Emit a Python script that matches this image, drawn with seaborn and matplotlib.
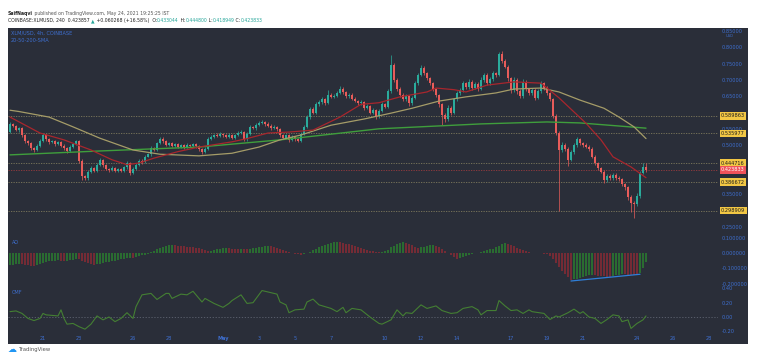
import matplotlib
matplotlib.use("Agg")
import matplotlib.pyplot as plt
import matplotlib.transforms as mtransforms
import numpy as np
import seaborn as sns

# ---------------------------------------------------------------------------
# Data -- 4h candles, candle 0 = Apr 19 04:00
# ---------------------------------------------------------------------------
first_open = 0.540
closes = [
    0.566, 0.558, 0.545, 0.552, 0.530, 0.512,
    0.505, 0.490, 0.484, 0.498, 0.514, 0.530,
    0.518, 0.508, 0.512, 0.502, 0.510, 0.498,
    0.490, 0.481, 0.494, 0.503, 0.512, 0.452,
    0.405, 0.398, 0.418, 0.430, 0.422, 0.440,
    0.455, 0.438, 0.428, 0.424, 0.430, 0.420,
    0.426, 0.422, 0.432, 0.445, 0.415, 0.428,
    0.440, 0.452, 0.448, 0.465, 0.472, 0.490,
    0.486, 0.505, 0.520, 0.512, 0.500, 0.505,
    0.498, 0.502, 0.495, 0.500, 0.493, 0.500,
    0.497, 0.502, 0.496, 0.487, 0.480, 0.488,
    0.520, 0.526, 0.531, 0.528, 0.535, 0.530,
    0.526, 0.531, 0.523, 0.530, 0.537, 0.541,
    0.518, 0.535, 0.556, 0.552, 0.562, 0.568,
    0.571, 0.565, 0.560, 0.552, 0.556, 0.548,
    0.530, 0.522, 0.530, 0.516, 0.525, 0.518,
    0.512, 0.535, 0.556, 0.585, 0.610, 0.600,
    0.625, 0.632, 0.640, 0.630, 0.655, 0.648,
    0.652, 0.660, 0.672, 0.662, 0.650, 0.655,
    0.642, 0.635, 0.628, 0.632, 0.615, 0.620,
    0.600, 0.608, 0.588, 0.605, 0.625, 0.618,
    0.665, 0.745, 0.700, 0.672, 0.655, 0.640,
    0.650, 0.628, 0.645, 0.690, 0.715, 0.737,
    0.720, 0.705, 0.690, 0.672, 0.655, 0.625,
    0.592, 0.580, 0.615, 0.600, 0.640, 0.660,
    0.668, 0.690, 0.678, 0.695, 0.676, 0.688,
    0.672, 0.700, 0.715, 0.690, 0.702, 0.720,
    0.715, 0.780, 0.758, 0.740, 0.705, 0.668,
    0.700, 0.665, 0.650, 0.695, 0.672, 0.660,
    0.670, 0.645, 0.665, 0.690, 0.676, 0.660,
    0.640, 0.590, 0.537, 0.485, 0.500, 0.488,
    0.455, 0.478, 0.500, 0.518, 0.505, 0.500,
    0.495, 0.488, 0.465, 0.445, 0.430, 0.418,
    0.392, 0.405, 0.398, 0.408, 0.400, 0.395,
    0.380, 0.370, 0.340, 0.322, 0.318, 0.345,
    0.415, 0.433044, 0.423833,
]
# wick lengths beyond the body, in thousandths
wick_up = [
    4, 3, 5, 4, 3, 4,  3, 4, 3, 5, 4, 6,  4, 3, 5, 3, 4, 3,
    4, 3, 5, 4, 5, 3,  4, 3, 6, 5, 4, 5,  4, 3, 4, 3, 5, 3,
    4, 3, 4, 5, 3, 4,  5, 4, 6, 4, 5, 6,  5, 4, 6, 4, 3, 5,
    4, 5, 3, 4, 3, 5,  4, 3, 4, 3, 4, 5,  6, 5, 4, 5, 4, 3,
    4, 5, 3, 4, 5, 4,  3, 5, 6, 4, 5, 6,  6, 4, 5, 4, 5, 3,
    4, 5, 4, 3, 5, 4,  4, 5, 6, 7, 8, 6,  6, 5, 7, 5, 15, 6,
    5, 6, 8, 5, 4, 5,  4, 5, 4, 5, 4, 5,  4, 5, 4, 6, 6, 5,
    8, 31, 8, 6, 5, 4, 6, 5, 6, 8, 7, 8,  6, 5, 4, 5, 4, 3,
    4, 5, 8, 5, 6, 7,  6, 8, 5, 7, 5, 6,  5, 8, 7, 5, 6, 7,
    5, 7, 8, 6, 5, 4,  8, 5, 6, 7, 5, 4,  6, 5, 6, 7, 5, 4,
    4, 5, 4, 5, 8, 6,  5, 6, 7, 7, 5, 6,  5, 4, 5, 4, 3, 4,
    5, 6, 7, 5, 6, 4,  4, 5, 4, 6, 5, 8,  6, 12, 12,
]
wick_dn = [
    3, 4, 3, 5, 4, 5,  4, 6, 5, 3, 4, 3,  4, 5, 3, 4, 3, 4,
    5, 4, 3, 4, 3, 6,  12, 6, 4, 3, 5, 4, 3, 5, 4, 5, 3, 4,
    3, 4, 3, 4, 7, 3,  4, 3, 5, 4, 3, 4,  5, 4, 3, 5, 4, 3,
    4, 3, 5, 3, 4, 3,  4, 3, 4, 5, 6, 4,  3, 4, 3, 4, 3, 4,
    4, 3, 5, 4, 3, 4,  5, 4, 3, 4, 5, 3,  4, 5, 4, 5, 3, 4,
    5, 4, 3, 5, 4, 5,  4, 3, 4, 5, 4, 6,  5, 4, 5, 6, 4, 5,
    4, 5, 4, 5, 6, 4,  5, 4, 5, 4, 6, 5,  6, 5, 7, 5, 4, 5,
    4, 5, 6, 5, 7, 6,  5, 8, 5, 4, 5, 4,  5, 4, 6, 5, 6, 8,
    30, 10, 6, 8, 5, 4, 5, 4, 6, 5, 7, 5, 6, 4, 5, 6, 5, 4,
    5, 4, 6, 5, 7, 8,  5, 7, 6, 4, 6, 7,  5, 7, 5, 4, 6, 5,
    6, 8, 7, 187, 6, 7, 20, 5, 4, 5, 6, 5, 5, 6, 5, 7, 6, 5,
    7, 5, 6, 5, 6, 5,  6, 7, 8, 27, 42, 5, 6, 5, 5,
]

# moving averages (candle number, value)
sma20_idx = [0, 10, 18, 27, 34, 39, 43, 48, 56, 63, 74, 79, 86, 93, 101, 110,
             117, 123, 130, 139, 142, 148, 152, 159, 168, 177, 183, 192, 197,
             201, 207, 212]
sma20_val = [0.586, 0.537, 0.516, 0.485, 0.455, 0.440, 0.445, 0.460, 0.480,
             0.494, 0.510, 0.520, 0.537, 0.540, 0.546, 0.586, 0.625, 0.630,
             0.648, 0.663, 0.675, 0.670, 0.663, 0.684, 0.694, 0.690, 0.645,
             0.567, 0.516, 0.464, 0.433, 0.400]
sma50_idx = [0, 3, 13, 21, 30, 41, 50, 63, 74, 83, 90, 97, 107, 118, 127, 134,
             143, 152, 162, 168, 177, 183, 190, 198, 203, 208, 212]
sma50_val = [0.607, 0.603, 0.586, 0.556, 0.521, 0.485, 0.472, 0.467, 0.475,
             0.494, 0.516, 0.531, 0.561, 0.580, 0.598, 0.613, 0.635, 0.648,
             0.660, 0.672, 0.675, 0.663, 0.638, 0.613, 0.586, 0.556, 0.520]
sma200_idx = [0, 30, 63, 90, 123, 157, 179, 190, 212]
sma200_val = [0.470, 0.482, 0.494, 0.516, 0.550, 0.565, 0.571, 0.568, 0.552]

# horizontal levels drawn on the chart
levels = [0.589863, 0.535977, 0.444716, 0.386672, 0.298909]
last_price = 0.423833

# Awesome Oscillator, one value per candle
ao = [
    -0.080, -0.078, -0.075, -0.073, -0.075, -0.078,
    -0.080, -0.082, -0.083, -0.080, -0.074, -0.068,
    -0.060, -0.055, -0.052, -0.050, -0.048, -0.052,
    -0.055, -0.050, -0.046, -0.043, -0.040, -0.042,
    -0.050, -0.060, -0.068, -0.073, -0.076, -0.074,
    -0.070, -0.065, -0.060, -0.057, -0.054, -0.050,
    -0.046, -0.042, -0.038, -0.035, -0.030, -0.032,
    -0.028, -0.022, -0.015, -0.010, -0.004, 0.006,
    0.015, 0.024, 0.033, 0.041, 0.048, 0.053,
    0.055, 0.052, 0.049, 0.046, 0.044, 0.041,
    0.039, 0.036, 0.034, 0.031, 0.025, 0.018,
    0.014, 0.016, 0.020, 0.024, 0.027, 0.030,
    0.032, 0.030, 0.028, 0.026, 0.024, 0.027,
    0.025, 0.023, 0.026, 0.030, 0.034, 0.038,
    0.041, 0.043, 0.045, 0.044, 0.040, 0.034,
    0.027, 0.020, 0.013, 0.007, 0.002, -0.004,
    -0.008, -0.010, -0.008, -0.003, 0.008, 0.018,
    0.028, 0.038, 0.047, 0.055, 0.062, 0.068,
    0.073, 0.074, 0.071, 0.067, 0.062, 0.057,
    0.052, 0.046, 0.040, 0.034, 0.027, 0.021,
    0.016, 0.012, 0.008, 0.006, 0.008, 0.012,
    0.022, 0.036, 0.048, 0.058, 0.066, 0.072,
    0.068, 0.060, 0.050, 0.040, 0.033, 0.036,
    0.042, 0.048, 0.052, 0.054, 0.046, 0.036,
    0.024, 0.012, 0.001, -0.014, -0.028, -0.038,
    -0.035, -0.028, -0.020, -0.013, -0.007, -0.002,
    0.003, 0.008, 0.013, 0.018, 0.023, 0.028,
    0.036, 0.046, 0.056, 0.063, 0.060, 0.052,
    0.043, 0.034, 0.025, 0.018, 0.012, 0.007,
    0.003, 0.000, -0.003, -0.002, -0.004, -0.006,
    -0.020, -0.040, -0.065, -0.092, -0.118, -0.140,
    -0.160, -0.176, -0.172, -0.167, -0.162, -0.157,
    -0.152, -0.147, -0.142, -0.145, -0.148, -0.151,
    -0.153, -0.155, -0.156, -0.150, -0.146, -0.142,
    -0.138, -0.140, -0.142, -0.143, -0.144, -0.146,
    -0.128, -0.095, -0.060,
]
div_idx = [187, 210]
div_val = [-0.183, -0.139]

# Chaikin Money Flow (candle number, value)
cmf_idx = [0, 2, 4, 6, 8, 10, 11, 12, 16, 17, 18, 19, 21, 23, 25, 27, 29, 31,
           33, 35, 37, 39, 41, 42, 44, 47, 49, 52, 53, 54, 57, 59, 61, 64, 65,
           68, 71, 73, 74, 77, 79, 81, 84, 87, 89, 90, 92, 93, 95, 98, 99, 101,
           103, 107, 109, 111, 112, 114, 117, 120, 123, 124, 127, 129, 131,
           132, 134, 137, 139, 142, 144, 147, 149, 151, 154, 156, 157, 159,
           162, 163, 165, 167, 169, 171, 173, 174, 178, 180, 182, 183, 186,
           188, 190, 191, 193, 195, 197, 199, 201, 203, 204, 206, 207, 209,
           211, 212]
cmf_val = [0.075, 0.085, 0.05, -0.02, -0.05, -0.02, 0.05, 0.03, 0.015, 0.10,
           -0.02, -0.10, -0.09, -0.135, -0.17, -0.10, 0.015, -0.04, 0.0,
           -0.065, -0.02, 0.06, -0.02, 0.145, 0.31, 0.33, 0.245, 0.33, 0.33,
           0.26, 0.32, 0.31, 0.36, 0.21, 0.26, 0.19, 0.135, 0.19, 0.23, 0.31,
           0.19, 0.20, 0.37, 0.34, 0.32, 0.21, 0.17, 0.06, 0.10, 0.11, 0.21,
           0.25, 0.17, 0.12, 0.075, 0.135, 0.06, 0.12, 0.10, 0.0, -0.09, -0.10,
           -0.04, 0.10, 0.015, 0.06, 0.05, 0.17, 0.12, 0.155, 0.09, 0.05, 0.06,
           0.12, 0.145, 0.10, 0.03, 0.09, 0.09, 0.23, 0.155, 0.09, 0.10, 0.05,
           0.10, 0.075, 0.05, -0.035, 0.015, 0.0, 0.06, 0.11, 0.05, 0.075, 0.0,
           -0.02, -0.09, -0.035, 0.03, 0.015, -0.065, -0.04, -0.16, -0.09,
           -0.04, 0.015]

# date axis: days after Apr 21
day_offsets = [0, 2, 5, 7, 10, 12, 14, 16, 19, 21, 23, 26, 28, 30, 33, 35, 37]
day_labels = ["21", "23", "26", "28", "May", "3", "5", "7", "10", "12", "14",
              "17", "19", "21", "24", "26", "28"]

# price labels not hidden behind the level boxes
price_ticks = [0.85, 0.80, 0.75, 0.70, 0.65, 0.55, 0.50, 0.35, 0.25]
ao_ticks = [0.1, 0.0, -0.1, -0.2]
cmf_ticks = [0.4, 0.2, 0.0, -0.2]

# ---------------------------------------------------------------------------
# Style
# ---------------------------------------------------------------------------
sns.set_style("dark")
plt.rcParams["font.family"] = ["DejaVu Sans"]

BG = "#2a2e39"
BLUE = "#3e6fd0"
TEAL = "#2aab9c"
RED = "#e85c5a"
W, H = 768, 363

fig = plt.figure(figsize=(W / 100, H / 100), dpi=100)
fig.patch.set_facecolor("white")
bg_ax = fig.add_axes([8 / W, 1 - 344 / H, 740 / W, 316 / H], zorder=-5)
bg_ax.set_facecolor(BG)
bg_ax.set_xticks([])
bg_ax.set_yticks([])
for s in bg_ax.spines.values():
    s.set_visible(False)


def px_axes(x0, y0, x1, y1):
    a = fig.add_axes([x0 / W, 1 - y1 / H, (x1 - x0) / W, (y1 - y0) / H])
    a.set_facecolor("none")
    for s in a.spines.values():
        s.set_visible(False)
    a.grid(False)
    return a


x_left, x_right = (8 - 10) / 3, (718 - 10) / 3

# ---------------------------------------------------------------------------
# Price pane
# ---------------------------------------------------------------------------
ax = px_axes(8, 28, 718, 240)
idx = np.arange(len(closes))
c = np.array(closes)
o = np.array([first_open] + closes[:-1])
hi = np.maximum(o, c) + np.array(wick_up) / 1000
lo = np.minimum(o, c) - np.array(wick_dn) / 1000
cols = [TEAL if cc >= oo else RED for oo, cc in zip(o, c)]

for lv in levels:
    ax.axhline(lv, color="#7f7a5c", lw=0.6, ls=(0, (1.5, 1.5)), zorder=1)
ax.axhline(last_price, color="#9a3b3e", lw=0.6, ls=(0, (1.5, 1.5)), zorder=1)

ax.vlines(idx, lo, hi, colors=cols, lw=0.5, zorder=2)
ax.bar(idx, np.maximum(np.abs(c - o), 0.0008), bottom=np.minimum(o, c),
       width=0.62, color=cols, linewidth=0, zorder=3)

sns.lineplot(x=sma200_idx, y=sma200_val, ax=ax, color="#3f9e3c", lw=1.0, zorder=4)
sns.lineplot(x=sma50_idx, y=sma50_val, ax=ax, color="#a59c68", lw=0.9, zorder=4)
sns.lineplot(x=sma20_idx, y=sma20_val, ax=ax, color="#a8262d", lw=0.9, zorder=4)

ax.set_xlim(x_left, x_right)
ax.set_ylim(0.8 - (240 - 47.3) / 326, 0.8 + (47.3 - 28) / 326)
ax.set_xticks([])
ax.set_xlabel("")
ax.set_ylabel("")
ax.yaxis.tick_right()
ax.set_yticks(price_ticks, [f"{t:.5f}" for t in price_ticks])
ax.tick_params(axis="y", length=0, pad=2.9, labelsize=3.6, labelcolor=BLUE)

trans = mtransforms.blended_transform_factory(ax.transAxes, ax.transData)
ax.text(1 + 8 / 710, 0.85 - 0.016, "USD", transform=trans, fontsize=2.6,
        color=BLUE, va="center", ha="left", clip_on=False)
for lv in levels:
    ax.text(1 + 3 / 710, lv, f"{lv:.6f}", transform=trans, fontsize=3.6,
            color="#1c1c1c", va="center", ha="left", clip_on=False, zorder=6,
            bbox=dict(boxstyle="square,pad=0.25", fc="#f2c744", ec="none"))
ax.text(1 + 3 / 710, last_price, f"{last_price:.6f}", transform=trans,
        fontsize=3.6, color="white", va="center", ha="left", clip_on=False,
        zorder=6, bbox=dict(boxstyle="square,pad=0.25", fc="#f0525a", ec="none"))

# ---------------------------------------------------------------------------
# AO pane
# ---------------------------------------------------------------------------
ax_ao = px_axes(8, 234, 718, 285)
ao_arr = np.array(ao)
ao_cols = ["#2a6c31"] + ["#2a6c31" if b >= a else "#742b35"
                         for a, b in zip(ao_arr[:-1], ao_arr[1:])]
ax_ao.bar(idx, ao_arr, width=0.34, color=ao_cols, linewidth=0)
ax_ao.plot(div_idx, div_val, color="#2f7fd8", lw=0.9)
ax_ao.set_xlim(x_left, x_right)
ax_ao.set_ylim(-(285 - 253) / 153, (253 - 234) / 153)
ax_ao.set_xticks([])
ax_ao.yaxis.tick_right()
ax_ao.set_yticks(ao_ticks, [f"{t:.6f}" for t in ao_ticks])
ax_ao.tick_params(axis="y", length=0, pad=2.9, labelsize=3.6, labelcolor=BLUE)

# ---------------------------------------------------------------------------
# CMF pane
# ---------------------------------------------------------------------------
ax_cmf = px_axes(8, 284, 718, 334)
ax_cmf.axhline(0, color="#5f6472", lw=0.6, ls=(0, (1.5, 2)))
sns.lineplot(x=cmf_idx, y=cmf_val, ax=ax_cmf, color="#447f33", lw=0.8)
ax_cmf.set_xlim(x_left, x_right)
ax_cmf.set_ylim(-(334 - 317) / 71.5, (317 - 284) / 71.5)
ax_cmf.set_ylabel("")
ax_cmf.yaxis.tick_right()
ax_cmf.set_yticks(cmf_ticks, [f"{t:.2f}" for t in cmf_ticks])
ax_cmf.tick_params(axis="y", length=0, pad=2.9, labelsize=3.6, labelcolor=BLUE)
ax_cmf.set_xticks([11 + 6 * d for d in day_offsets], day_labels)
ax_cmf.tick_params(axis="x", length=0, pad=1.2, labelsize=3.6, labelcolor=BLUE)
for lab in ax_cmf.get_xticklabels():
    if lab.get_text() == "May":
        lab.set_fontweight("bold")

# ---------------------------------------------------------------------------
# Texts
# ---------------------------------------------------------------------------
def ftext(x, y, s, **kw):
    kw.setdefault("va", "center")
    return fig.text(x / W, 1 - y / H, s, ha="left", **kw)


ftext(11, 33, "XLM/USD, 4h, COINBASE", fontsize=3.6, color=BLUE)
ftext(11, 40, "20-50-200-SMA", fontsize=3.6, color=BLUE)
ftext(12, 243, "AO", fontsize=3.6, color=BLUE)
ftext(12, 292, "CMF", fontsize=3.6, color=BLUE)

renderer = fig.canvas.get_renderer()


def chain(parts, x, y, size=3.3):
    # lay coloured pieces side by side on a common baseline
    for s, col, wt in parts:
        t = ftext(x, y, s, color=col, fontweight=wt, fontsize=size,
                  va="baseline")
        x += t.get_window_extent(renderer).width


DARK, GRAY, GREEN = "#222222", "#555555", "#26a69a"
chain([("SaifNaqvi", DARK, "bold"),
       (" published on TradingView.com, May 24, 2021 19:25:25 IST", GRAY, "normal")],
      8, 15.5)
chain([("COINBASE:XLMUSD, 240  0.423857 ", DARK, "normal"),
       ("\u25b2", GREEN, "normal"),
       (" +0.060268 (+16.58%)  O:", DARK, "normal"),
       ("0.433044", GREEN, "normal"), (" H:", DARK, "normal"),
       ("0.444800", GREEN, "normal"), (" L:", DARK, "normal"),
       ("0.418949", GREEN, "normal"), (" C:", DARK, "normal"),
       ("0.423833", GREEN, "normal")],
      8, 22)

ftext(8, 349.5, "\u2601", fontsize=6.5, color="#2196f3", va="center")
ftext(19, 350, "TradingView", fontsize=3.8, color="#555555")

fig.savefig("out.png", dpi=100, facecolor="white")
